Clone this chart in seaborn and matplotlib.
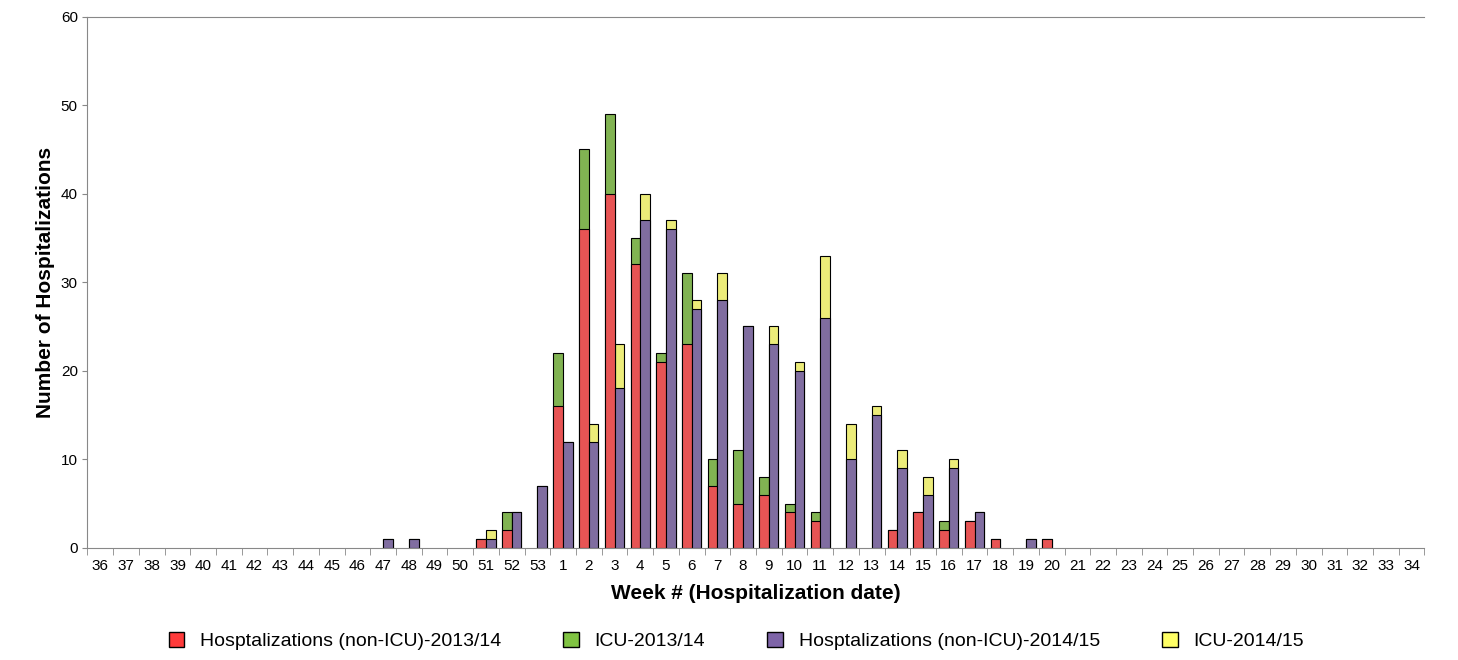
import numpy as np
import pandas as pd
import matplotlib
matplotlib.use("Agg")
import matplotlib.pyplot as plt
from matplotlib.patches import Patch
import seaborn as sns

weeks = [str(w) for w in list(range(36, 54)) + list(range(1, 35))]

# 2013/14 season (non-ICU, ICU) keyed by week
non_icu_1314 = {"51": 1, "52": 2, "1": 16, "2": 36, "3": 40, "4": 32, "5": 21, "6": 23,
                "7": 7, "8": 5, "9": 6, "10": 4, "11": 3, "14": 2, "15": 4, "16": 2,
                "17": 3, "18": 1, "20": 1}
icu_1314 = {"52": 2, "1": 6, "2": 9, "3": 9, "4": 3, "5": 1, "6": 8, "7": 3, "8": 6,
            "9": 2, "10": 1, "11": 1, "16": 1}
# 2014/15 season
non_icu_1415 = {"47": 1, "48": 1, "51": 1, "52": 4, "53": 7, "1": 12, "2": 12, "3": 18,
                "4": 37, "5": 36, "6": 27, "7": 28, "8": 25, "9": 23, "10": 20, "11": 26,
                "12": 10, "13": 15, "14": 9, "15": 6, "16": 9, "17": 4, "19": 1}
icu_1415 = {"51": 1, "2": 2, "3": 5, "4": 3, "5": 1, "6": 1, "7": 3, "9": 2, "10": 1,
            "11": 7, "12": 4, "13": 1, "14": 2, "15": 2, "16": 1}

seasons = ["2013/14", "2014/15"]
rows = []
for w in weeks:
    for s, base, top in [("2013/14", non_icu_1314, icu_1314), ("2014/15", non_icu_1415, icu_1415)]:
        b = base.get(w, 0)
        t = b + top.get(w, 0)
        rows.append({"week": w, "season": s,
                     "base": b if b > 0 else np.nan,
                     "total": t if t > 0 else np.nan})
df = pd.DataFrame(rows)

c_red, c_green, c_purple, c_yellow = "#FF3B3B", "#80C342", "#7E64A8", "#FFFF66"

plt.rcParams['font.family'] = ['Liberation Sans', 'DejaVu Sans']
fig, ax = plt.subplots(figsize=(14.58, 6.6), dpi=100)
fig.subplots_adjust(left=0.06, right=0.977, top=0.975, bottom=0.17)

common = dict(x="week", hue="season", order=weeks, hue_order=seasons, width=0.75,
              edgecolor="black", linewidth=0.8, ax=ax, legend=False, errorbar=None)
sns.barplot(data=df, y="total", palette=[c_green, c_yellow], **common)
sns.barplot(data=df, y="base", palette=[c_red, c_purple], **common)

ax.set_ylim(0, 60)
ax.set_xlim(-0.5, len(weeks) - 0.5)
ax.set_yticks(range(0, 61, 10))
ax.set_xticks(np.arange(-0.5, len(weeks), 1), minor=True)
ax.tick_params(axis="x", which="major", length=0, labelsize=11, pad=8)
ax.tick_params(axis="x", which="minor", length=5, color="#888888")
ax.tick_params(axis="y", labelsize=11, color="#888888")
for sp in ["left", "bottom", "top"]:
    ax.spines[sp].set_color("#888888")
ax.spines["right"].set_visible(False)
ax.set_xlabel("Week # (Hospitalization date)", fontsize=15, fontweight="bold", labelpad=8)
ax.set_ylabel("Number of Hospitalizations", fontsize=15, fontweight="bold")

handles = [Patch(facecolor=c_red, edgecolor="black"), Patch(facecolor=c_green, edgecolor="black"),
           Patch(facecolor=c_purple, edgecolor="black"), Patch(facecolor=c_yellow, edgecolor="black")]
labels = ["Hosptalizations (non-ICU)-2013/14", "ICU-2013/14",
          "Hosptalizations (non-ICU)-2014/15", "ICU-2014/15"]
fig.legend(handles, labels, loc="lower center", ncol=4, frameon=False, fontsize=14,
           bbox_to_anchor=(0.505, -0.012), handlelength=0.8, handleheight=0.8, columnspacing=3.2)

fig.savefig("out.png", dpi=100)
